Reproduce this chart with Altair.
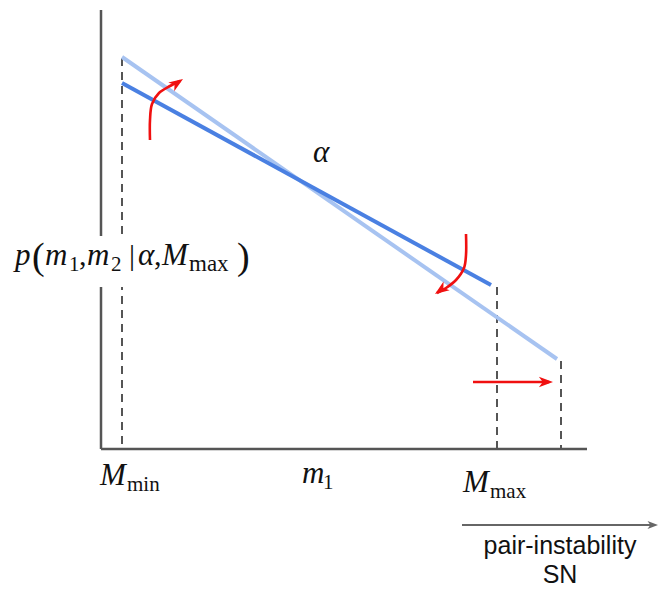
import altair as alt
import pandas as pd

W, H = 658, 590

# ---- diagram coordinates (x to the right, y downward) ----
frame_x = [101, 101]
frame_y = [10, 449]
frame_x2 = [101, 587]
frame_y2 = [449, 449]

dash_x = [122, 497, 561]
dash_y = [58, 287, 361]
dash_y2 = [449, 449, 449]

light_x = [122, 557]
light_y = [57, 359]
dark_x = [122, 491]
dark_y = [83, 285]

curve1_x = [150, 150, 152, 159, 170, 180]
curve1_y = [140, 120, 104, 93, 86, 81]
curve2_x = [466, 466, 464, 456, 446, 437]
curve2_y = [234, 255, 268, 280, 288, 293]
harrow_x = [473, 549]
harrow_y = [382, 382]
gray_x = [462, 654]
gray_y = [525, 525]

head_x = [183, 435, 553, 658]
head_y = [79, 294, 382, 525]
head_angle = [326, 145, 0, 0]
head_kind = ["red", "red", "red", "gray"]

# label backdrop (hides the axis behind the y label)
box_x, box_x2, box_y, box_y2 = [8], [256], [236], [287]

# text pieces
ital_text = ["p", "m", "m", "α", "M", "M", "m", "M", "α"]
ital_x = [15, 45, 87, 138, 162, 100, 302, 463, 313]
ital_y = [265, 265, 265, 265, 265, 485, 483, 492, 162]

sub_text = ["1", "2", "max", "min", "1", "max"]
sub_x = [69, 111, 189, 127, 323, 490]
sub_y = [271, 271, 271, 491, 489, 498]
sub_size = [21, 21, 23, 21, 21, 21]

up_text = [",", ",", "|"]
up_x = [79, 154, 129]
up_y = [265, 265, 265]

paren_text = ["(", ")"]
paren_x = [32, 237]
paren_y = [269, 269]

sans_text = ["pair-instability", "SN"]
sans_x = [560, 560]
sans_y = [554, 583]

xsc = alt.Scale(domain=[0, W], nice=False, zero=False)
ysc = alt.Scale(domain=[0, H], reverse=True, nice=False, zero=False)


def X(f="x"):
    return alt.X(f"{f}:Q", scale=xsc, axis=None)


def Y(f="y"):
    return alt.Y(f"{f}:Q", scale=ysc, axis=None)


frame = alt.Chart(pd.DataFrame({"x": frame_x, "y": frame_y, "x2": frame_x2, "y2": frame_y2})).mark_rule(
    color="#555555", strokeWidth=2.5
).encode(x=X(), y=Y(), x2="x2:Q", y2="y2:Q")

dashes = alt.Chart(pd.DataFrame({"x": dash_x, "y": dash_y, "y2": dash_y2})).mark_rule(
    color="#555555", strokeWidth=2, strokeDash=[8, 6]
).encode(x=X(), y=Y(), y2="y2:Q")

box = alt.Chart(pd.DataFrame({"x": box_x, "x2": box_x2, "y": box_y, "y2": box_y2})).mark_rect(
    color="white"
).encode(x=X(), x2="x2:Q", y=Y(), y2="y2:Q")

light = alt.Chart(pd.DataFrame({"x": light_x, "y": light_y})).mark_line(
    color="#a7c3f1", strokeWidth=4
).encode(x=X(), y=Y())

dark = alt.Chart(pd.DataFrame({"x": dark_x, "y": dark_y})).mark_line(
    color="#4a80e2", strokeWidth=4
).encode(x=X(), y=Y())


def curve(xs, ys, color, width):
    df = pd.DataFrame({"x": xs, "y": ys, "o": list(range(len(xs)))})
    return alt.Chart(df).mark_line(
        color=color, strokeWidth=width, interpolate="catmull-rom"
    ).encode(x=X(), y=Y(), order="o:Q")


c1 = curve(curve1_x, curve1_y, "#f01010", 2.6)
c2 = curve(curve2_x, curve2_y, "#f01010", 2.6)
c3 = curve(harrow_x, harrow_y, "#f01010", 2.6)
c4 = curve(gray_x, gray_y, "#666666", 2)

arrow_path = "M0,0 L-2,-0.75 L-1.45,0 L-2,0.75 Z"
heads = pd.DataFrame({"x": head_x, "y": head_y, "a": head_angle, "k": head_kind})
red_heads = alt.Chart(heads[heads.k == "red"]).mark_point(
    shape=arrow_path, filled=True, color="#f01010", size=200, opacity=1
).encode(x=X(), y=Y(), angle=alt.Angle("a:Q", scale=None))
gray_heads = alt.Chart(heads[heads.k == "gray"]).mark_point(
    shape=arrow_path, filled=True, color="#666666", size=110, opacity=1
).encode(x=X(), y=Y(), angle=alt.Angle("a:Q", scale=None))


def texts(t, xs, ys, sizes=None, **kw):
    df = pd.DataFrame({"t": t, "x": xs, "y": ys})
    enc = dict(x=X(), y=Y(), text="t:N")
    if sizes is not None:
        df["s"] = sizes
        enc["size"] = alt.Size("s:Q", scale=None, legend=None)
    return alt.Chart(df).mark_text(baseline="alphabetic", color="#111111", **kw).encode(**enc)


ital = texts(ital_text, ital_x, ital_y, align="left", font="Liberation Serif", fontStyle="italic", fontSize=31)
subs = texts(sub_text, sub_x, sub_y, sizes=sub_size, align="left", font="Liberation Serif")
ups = texts(up_text, up_x, up_y, align="left", font="Liberation Serif", fontSize=30)
parens = texts(paren_text, paren_x, paren_y, align="left", font="Liberation Serif", fontSize=38)
sans = texts(sans_text, sans_x, sans_y, align="center", font="Liberation Sans", fontSize=25)

chart = alt.layer(
    frame, dashes, box, light, dark, c1, c2, c3, c4, red_heads, gray_heads,
    ital, subs, ups, parens, sans
).properties(width=W, height=H, padding=0, autosize="none").configure_view(stroke=None)

chart.save("out.html", embed_options={"renderer": "svg", "actions": False})
